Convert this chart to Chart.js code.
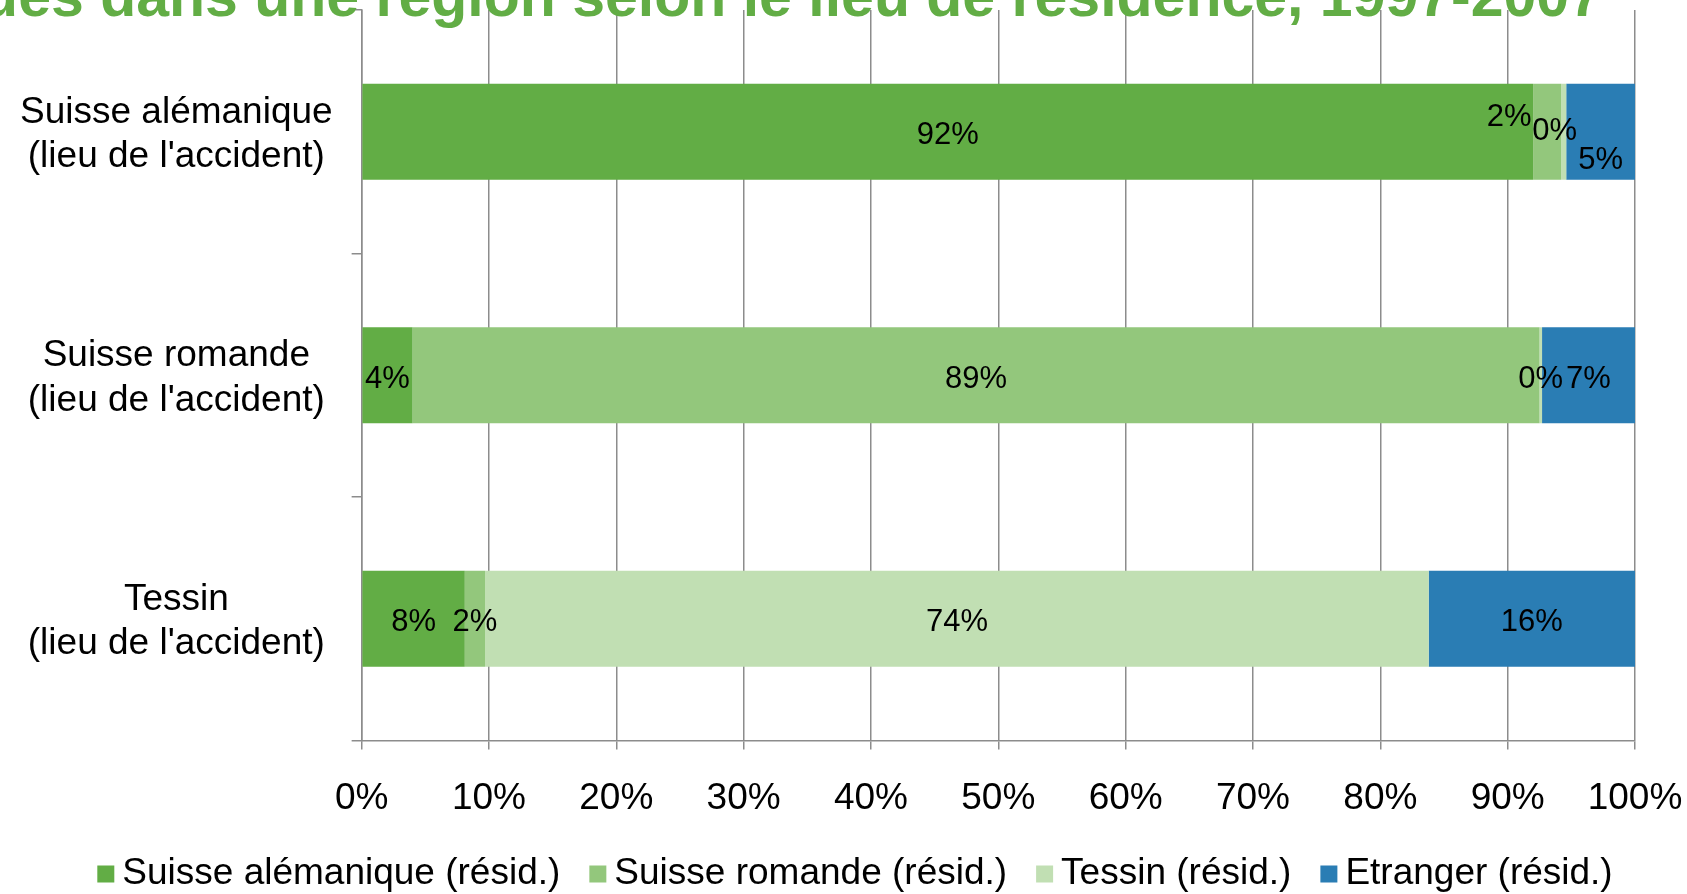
<!DOCTYPE html>
<html lang="fr">
<head>
<meta charset="utf-8">
<title>Accidents par région selon le lieu de résidence</title>
<script src="https://cdn.jsdelivr.net/npm/chart.js@4.4.1/dist/chart.umd.min.js"></script>
<style>
    html, body { margin: 0; padding: 0; background: #fff; }
    #wrap { width: 1687px; height: 894px; }
</style>
</head>
<body>
<div id="wrap"><canvas id="chart" width="1687" height="894"></canvas></div>
<script>
// Données (en %)
const categories = [
    ['Suisse alémanique', "(lieu de l'accident)"],
    ['Suisse romande', "(lieu de l'accident)"],
    ['Tessin', "(lieu de l'accident)"]
];
const seriesNames = ['Suisse alémanique (résid.)', 'Suisse romande (résid.)', 'Tessin (résid.)', 'Etranger (résid.)'];
const alemaniqueResid = [92.0, 4.0, 8.1];
const romandeResid = [2.2, 88.5, 1.6];
const tessinResid = [0.4, 0.2, 74.1];
const etrangerResid = [5.4, 7.3, 16.2];
const xTicks = [0, 10, 20, 30, 40, 50, 60, 70, 80, 90, 100];
const titleText = 'Blessés graves et tués dans une région selon le lieu de résidence, 1997-2007';

const colors = ['#62ad45', '#93c77c', '#c1dfb3', '#2a7db4'];
const FONT = '"Liberation Sans", Arial, sans-serif';
const gridColor = '#8c8c8c';

// décalages des étiquettes qui se chevauchent (comme dans Excel)
const labelShift = { '1-0': [-38, -18], '2-0': [-9, -4], '3-0': [0, 25] };

const valueLabels = {
    id: 'valueLabels',
    afterDatasetsDraw(chart) {
        const ctx = chart.ctx;
        ctx.save();
        ctx.font = '31px ' + FONT;
        ctx.fillStyle = '#000';
        ctx.textAlign = 'center';
        ctx.textBaseline = 'middle';
        chart.data.datasets.forEach((ds, di) => {
            chart.getDatasetMeta(di).data.forEach((bar, i) => {
                const shift = labelShift[di + '-' + i] || [0, 0];
                const x = (bar.x + bar.base) / 2 + shift[0];
                ctx.fillText(Math.round(ds.data[i]) + '%', x, bar.y + 4 + shift[1]);
            });
        });
        ctx.restore();
    }
};

// titre coupé en haut, comme sur l'original
const topTitle = {
    id: 'topTitle',
    afterDraw(chart) {
        const ctx = chart.ctx;
        ctx.save();
        ctx.font = 'bold 59px ' + FONT;
        ctx.fillStyle = '#62ad45';
        ctx.textAlign = 'right';
        ctx.textBaseline = 'alphabetic';
        ctx.fillText(titleText, 1602, 16);
        ctx.restore();
    }
};

// légende dessinée à la main pour coller à l'espacement d'Excel
const bottomLegend = {
    id: 'bottomLegend',
    afterDraw(chart) {
        const ctx = chart.ctx;
        ctx.save();
        ctx.font = '37px ' + FONT;
        ctx.textBaseline = 'middle';
        ctx.textAlign = 'left';
        const box = 17, gap = 8, spacing = 29, y = 874;
        const items = chart.data.datasets.map(ds => ({
            text: ds.label, color: ds.backgroundColor, w: ctx.measureText(ds.label).width
        }));
        const total = items.reduce((s, it) => s + box + gap + it.w, 0) + spacing * (items.length - 1);
        let x = 855 - total / 2;
        items.forEach(it => {
            ctx.fillStyle = it.color;
            ctx.fillRect(x, y - box / 2, box, box);
            ctx.fillStyle = '#000';
            ctx.fillText(it.text, x + box + gap, y);
            x += box + gap + it.w + spacing;
        });
        ctx.restore();
    }
};

// on retire le rembourrage automatique des axes, la mise en page est fixée à la main
function noAutoPadding(scale) {
    scale.paddingTop = 0;
    scale.paddingBottom = 0;
    scale.paddingLeft = 0;
    scale.paddingRight = 0;
}

const seriesData = [alemaniqueResid, romandeResid, tessinResid, etrangerResid];

new Chart(document.getElementById('chart'), {
    type: 'bar',
    data: {
        labels: categories,
        datasets: seriesNames.map((name, k) => ({
            label: name,
            data: seriesData[k],
            backgroundColor: colors[k],
            borderWidth: 0,
            barPercentage: 1,
            categoryPercentage: 0.394
        }))
    },
    options: {
        indexAxis: 'y',
        responsive: false,
        animation: false,
        layout: { padding: { top: 10, left: 1, right: 52, bottom: 46 } },
        plugins: {
            legend: { display: false },
            tooltip: { enabled: false },
            title: { display: false }
        },
        scales: {
            x: {
                stacked: true,
                min: 0,
                max: 100,
                afterBuildTicks(axis) { axis.ticks = xTicks.map(v => ({ value: v })); },
                afterFit: noAutoPadding,
                ticks: {
                    color: '#000',
                    font: { family: FONT, size: 37 },
                    padding: 27,
                    maxRotation: 0,
                    callback: v => v + '%'
                },
                grid: { color: gridColor, lineWidth: 1.5, tickLength: 9 },
                border: { color: gridColor, width: 1.5 }
            },
            y: {
                stacked: true,
                afterFit: noAutoPadding,
                ticks: {
                    color: '#000',
                    font: { family: FONT, size: 37 },
                    crossAlign: 'center',
                    padding: 19,
                    labelOffset: 3
                },
                grid: { drawOnChartArea: false, color: gridColor, lineWidth: 1.5, tickLength: 10 },
                border: { color: gridColor, width: 1.5 }
            }
        }
    },
    plugins: [valueLabels, topTitle, bottomLegend]
});
</script>
</body>
</html>
